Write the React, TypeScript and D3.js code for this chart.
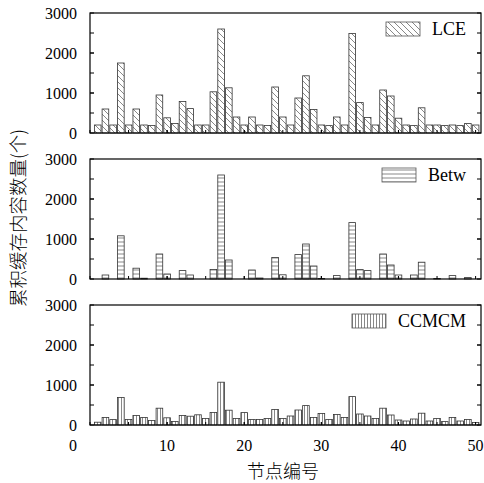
import React from 'react';
import * as d3 from 'd3';

// node ids 1..50
const nodes = d3.range(1, 51);

// cumulative cached contents per node
const lce = [
  200, 600, 200, 1750, 200, 600, 200, 190, 950, 380,
  240, 790, 610, 200, 200, 1030, 2600, 1130, 400, 200,
  400, 200, 190, 1150, 400, 200, 875, 1430, 590, 200,
  185, 400, 200, 2490, 760, 390, 200, 1075, 925, 370,
  200, 185, 630, 200, 200, 185, 200, 185, 235, 200,
];
const betw = [
  0, 100, 0, 1080, 0, 270, 20, 0, 625, 125,
  0, 210, 100, 0, 0, 240, 2600, 475, 0, 0,
  225, 25, 0, 540, 105, 0, 610, 875, 325, 15,
  0, 85, 0, 1410, 235, 210, 0, 625, 350, 100,
  0, 100, 420, 0, 15, 0, 85, 0, 35, 0,
];
const ccmcm = [
  70, 190, 135, 690, 140, 240, 190, 115, 420, 180,
  90, 240, 220, 255, 165, 315, 1070, 370, 165, 310,
  140, 140, 165, 390, 165, 225, 375, 485, 190, 290,
  140, 265, 190, 710, 275, 225, 165, 420, 250, 125,
  100, 150, 295, 100, 165, 85, 190, 100, 140, 65,
];

const seriesNames = ['LCE', 'Betw', 'CCMCM'];
const seriesValues = [lce, betw, ccmcm];
const patternIds = ['pDiag', 'pHoriz', 'pVert'];

const yTicks = [0, 1000, 2000, 3000];
const yMinor = d3.range(500, 3000, 500);
const xTicks = [0, 10, 20, 30, 40, 50];
const xMinor = d3.range(5, 50, 5);

const W = 484;
const H = 483;
const panelTops = [13, 159, 305];
const panelH = 120;
const serif = '"Liberation Serif", "Times New Roman", serif';
const cjk = '"Noto Sans CJK SC", sans-serif';

export default function App() {
  const x = d3.scaleLinear().domain([0, 50.7]).range([90, 481]);
  const left = x(0);
  const right = x(50.7);
  const unit = x(1) - x(0);
  const barW = unit * 0.86;
  const lastBottom = panelTops[2] + panelH;

  return (
    <svg width={W} height={H} style={{ position: 'absolute', left: 0, top: 0, background: '#fff' }}>
      <defs>
        <pattern id="pDiag" patternUnits="userSpaceOnUse" width={6} height={6}>
          <path d="M-1,-1 L7,7 M-1,5 L1,7 M5,-1 L7,1" stroke="#555" strokeWidth={0.7} />
        </pattern>
        <pattern id="pHoriz" patternUnits="userSpaceOnUse" width={4} height={4}>
          <line x1={0} x2={4} y1={2} y2={2} stroke="#555" strokeWidth={0.7} />
        </pattern>
        <pattern id="pVert" patternUnits="userSpaceOnUse" width={3} height={3}>
          <line x1={1.5} x2={1.5} y1={0} y2={3} stroke="#555" strokeWidth={0.7} />
        </pattern>
      </defs>

      {seriesNames.map((name, si) => {
        const top = panelTops[si];
        const y = d3.scaleLinear().domain([0, 3000]).range([top + panelH, top]);
        const vals = seriesValues[si];
        const fill = `url(#${patternIds[si]})`;
        return (
          <g key={name}>
            {nodes.map((n, i) => {
              const v = vals[i];
              if (!v) return null;
              return (
                <rect
                  key={n}
                  x={x(n) - barW / 2}
                  y={y(v)}
                  width={barW}
                  height={y(0) - y(v)}
                  fill={fill}
                  stroke="#333"
                  strokeWidth={0.8}
                />
              );
            })}
            {/* frame */}
            <rect x={left} y={top} width={right - left} height={panelH} fill="none" stroke="#000" strokeWidth={1.2} />
            {/* y ticks both sides */}
            {yTicks.concat(yMinor).map((t) => (
              <g key={t}>
                <line x1={left} x2={left + 4} y1={y(t)} y2={y(t)} stroke="#000" strokeWidth={1} />
                <line x1={right} x2={right - 4} y1={y(t)} y2={y(t)} stroke="#000" strokeWidth={1} />
              </g>
            ))}
            {/* x ticks along bottom */}
            {xTicks.concat(xMinor).map((t) => (
              <line key={t} x1={x(t)} x2={x(t)} y1={y(0)} y2={y(0) - 3} stroke="#000" strokeWidth={1} />
            ))}
            {yTicks.map((t) => (
              <text key={t} x={77} y={y(t)} dy="0.35em" textAnchor="end" fontFamily={serif} fontSize={16}>
                {t}
              </text>
            ))}
            {/* legend */}
            <text x={466} y={top + 22} textAnchor="end" fontFamily={serif} fontSize={18}>
              {name}
            </text>
            <LegendBox name={name} top={top} fill={fill} />
          </g>
        );
      })}

      {xTicks.map((t) => (
        <text
          key={t}
          x={t === 0 ? x(t) - 17 : x(t)}
          y={lastBottom + 26}
          textAnchor="middle"
          fontFamily={serif}
          fontSize={16}
        >
          {t}
        </text>
      ))}

      <text x={283} y={478} textAnchor="middle" fontFamily={cjk} fontWeight={300} fontSize={18}>
        节点编号
      </text>
      <text
        transform={`translate(25,218) rotate(-90)`}
        textAnchor="middle"
        fontFamily={cjk}
        fontWeight={300}
        fontSize={18.5}
      >
        累积缓存内容数量(个)
      </text>
    </svg>
  );
}

// legend swatch sits left of the right-aligned label
function LegendBox({ name, top, fill }: { name: string; top: number; fill: string }) {
  const ref = React.useRef<SVGRectElement>(null);
  const [bx, setBx] = React.useState(380);
  React.useEffect(() => {
    const svg = ref.current?.ownerSVGElement;
    if (!svg) return;
    const texts = Array.from(svg.querySelectorAll('text')).filter((t) => t.textContent === name);
    if (texts.length) {
      const bb = (texts[0] as SVGTextElement).getBBox();
      setBx(bb.x - 12 - 34);
    }
  }, [name]);
  return (
    <rect ref={ref} x={bx} y={top + 9} width={34} height={14} fill={fill} stroke="#555" strokeWidth={0.8} />
  );
}
